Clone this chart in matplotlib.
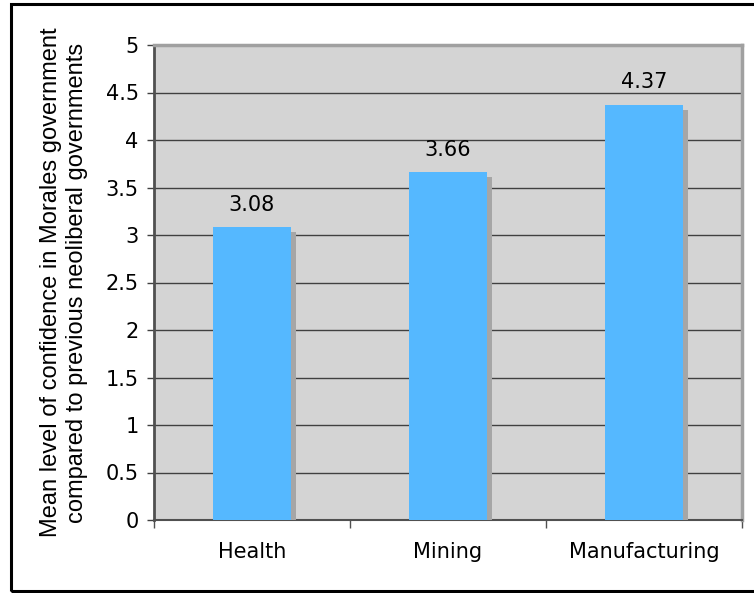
import matplotlib
matplotlib.use("Agg")
import matplotlib.pyplot as plt
import matplotlib.patheffects as pe
from matplotlib.patches import Rectangle

# data
categories = ["Health", "Mining", "Manufacturing"]
means = [3.08, 3.66, 4.37]
yticks = [0, 0.5, 1, 1.5, 2, 2.5, 3, 3.5, 4, 4.5, 5]
ylabel = "Mean level of confidence in Morales government\ncompared to previous neoliberal governments"

fig = plt.figure(figsize=(7.54, 5.93), dpi=100)
ax = fig.add_axes([154 / 754, 73 / 593, 588 / 754, 475 / 593])
ax.set_facecolor("#D4D4D4")

x = list(range(len(categories)))
shadow = [pe.SimplePatchShadow(offset=(3.6, -3.6), shadow_rgbFace="#A6A6A6", alpha=1), pe.Normal()]
bars = ax.bar(x, means, width=0.4, color="#55B8FF", zorder=3)
for b in bars:
    b.set_path_effects(shadow)

for xi, v in zip(x, means):
    ax.annotate(f"{v:.2f}", (xi, v), xytext=(0, 9), textcoords="offset points",
                ha="center", va="bottom", fontsize=15, family="DejaVu Sans")

ax.set_xlim(-0.5, len(categories) - 0.5)
ax.set_ylim(0, 5)
ax.set_yticks(yticks)
ax.set_yticklabels([f"{t:g}" for t in yticks], fontsize=15)
ax.yaxis.grid(True, color="#404040", linewidth=1.0, zorder=1)
ax.set_axisbelow(True)

ax.set_xticks(x)
ax.set_xticklabels(categories, fontsize=15)
ax.tick_params(axis="x", length=0, pad=16)
ax.set_xticks([i - 0.5 for i in range(len(categories) + 1)], minor=True)
ax.tick_params(axis="x", which="minor", length=6, color="#505050", width=1)
ax.tick_params(axis="y", length=5, color="#404040", width=1, pad=6)

ax.spines["left"].set_color("#505050")
ax.spines["left"].set_linewidth(2)
ax.spines["bottom"].set_color("#505050")
ax.spines["bottom"].set_linewidth(1.5)
ax.spines["top"].set_color("#A0A0A0")
ax.spines["top"].set_linewidth(2.5)
ax.spines["right"].set_color("#A0A0A0")
ax.spines["right"].set_linewidth(2.5)

ax.set_ylabel(ylabel, fontsize=17, family="Liberation Sans", linespacing=1.25)
ax.yaxis.set_label_coords(-66 / 588, 0.5)

# outer frame around the whole chart
fig.patches.append(Rectangle((11 / 754, 2 / 593), 1.0, 587 / 593, transform=fig.transFigure,
                             fill=False, edgecolor="black", linewidth=2.2))

fig.savefig("out.png", dpi=100)
